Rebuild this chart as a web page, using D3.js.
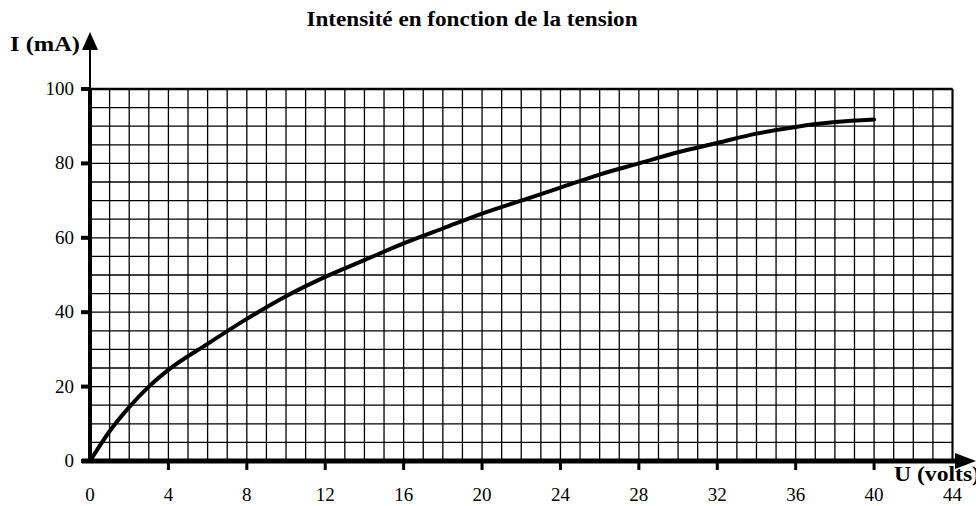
<!DOCTYPE html>
<html><head><meta charset="utf-8">
<script src="https://cdn.jsdelivr.net/npm/d3@7"></script>
<style>body{margin:0;background:#fff;}svg{display:block;} text{font-family:'Liberation Serif','DejaVu Serif',Times,serif;}</style>
</head><body>
<script>
const title = "Intensité en fonction de la tension";
const xLabel = "U (volts)";
const yLabel = "I (mA)";
const xTicks = [0,4,8,12,16,20,24,28,32,36,40,44];
const yTicks = [0,20,40,60,80,100];
const voltage = [0,1,2,3,4,6,8,10,12,14,16,18,20,22,24,26,28,30,32,34,36,38,40];
const current = [0,8,14.5,20,24.5,31.5,38.2,44.3,49.5,54,58.5,62.5,66.5,70,73.5,77,80,83,85.5,88,89.8,91.1,91.8];

const W=976,H=506;
const svg=d3.select("body").append("svg").attr("width",W).attr("height",H);
const x=d3.scaleLinear().domain([0,44]).range([90,952.5]);
const y=d3.scaleLinear().domain([0,100]).range([461,89]);

// grid
const g=svg.append("g").attr("stroke","#000").attr("stroke-width",1.3);
g.selectAll("line.v").data(d3.range(1,45)).join("line")
  .attr("x1",d=>x(d)).attr("x2",d=>x(d)).attr("y1",y(0)).attr("y2",y(100));
g.selectAll("line.h").data(d3.range(5,101,5)).join("line")
  .attr("y1",d=>y(d)).attr("y2",d=>y(d)).attr("x1",x(0)).attr("x2",x(44));
// borders
svg.append("line").attr("x1",x(0)).attr("x2",x(44)).attr("y1",y(100)).attr("y2",y(100)).attr("stroke","#000").attr("stroke-width",2.5);
svg.append("line").attr("x1",x(44)).attr("x2",x(44)).attr("y1",y(0)).attr("y2",y(100)).attr("stroke","#000").attr("stroke-width",2);

// y axis
svg.append("line").attr("x1",x(0)).attr("x2",x(0)).attr("y1",y(100)).attr("y2",46).attr("stroke","#000").attr("stroke-width",2);
svg.append("line").attr("x1",x(0)).attr("x2",x(0)).attr("y1",y(0)+2).attr("y2",y(100)).attr("stroke","#000").attr("stroke-width",4);
svg.append("path").attr("d",`M${x(0)},32 L${x(0)-8},50 L${x(0)+8},50 Z`).attr("fill","#000");
// x axis
svg.append("line").attr("x1",x(0)-8).attr("x2",958).attr("y1",y(0)).attr("y2",y(0)).attr("stroke","#000").attr("stroke-width",5);
svg.append("path").attr("d",`M976,${y(0)} L955,${y(0)-8} L955,${y(0)+8} Z`).attr("fill","#000");

// y ticks
svg.selectAll("line.yt").data(yTicks).join("line")
  .attr("x1",x(0)-9).attr("x2",x(0)).attr("y1",d=>y(d)).attr("y2",d=>y(d))
  .attr("stroke","#000").attr("stroke-width",4);
svg.selectAll("text.yl").data(yTicks).join("text")
  .attr("x",74).attr("y",d=>y(d)+6).attr("text-anchor","end")
  .attr("font-size",19).text(d=>d);
// x ticks
svg.selectAll("line.xt").data(xTicks.filter(d=>d>0&&d<44)).join("line")
  .attr("x1",d=>x(d)).attr("x2",d=>x(d)).attr("y1",y(0)).attr("y2",y(0)+9)
  .attr("stroke","#000").attr("stroke-width",3);
svg.selectAll("text.xl").data(xTicks).join("text")
  .attr("x",d=>x(d)).attr("y",501).attr("text-anchor","middle")
  .attr("font-size",19).text(d=>d);

// curve
const pts=voltage.map((v,i)=>[v,current[i]]);
svg.append("path").datum(pts)
  .attr("d",d3.line().x(d=>x(d[0])).y(d=>y(d[1])).curve(d3.curveMonotoneX))
  .attr("fill","none").attr("stroke","#000").attr("stroke-width",4).attr("stroke-linecap","round");

// texts
svg.append("text").attr("x",472).attr("y",26).attr("text-anchor","middle")
  .attr("font-weight","bold").attr("font-size",20)
  .attr("textLength",331).attr("lengthAdjust","spacingAndGlyphs").text(title);
svg.append("text").attr("x",10).attr("y",51)
  .attr("font-weight","bold").attr("font-size",21)
  .attr("textLength",70).attr("lengthAdjust","spacingAndGlyphs").text(yLabel);
svg.append("text").attr("x",894).attr("y",481)
  .attr("font-weight","bold").attr("font-size",21)
  .attr("textLength",86).attr("lengthAdjust","spacingAndGlyphs").text(xLabel);
</script>
</body></html>
